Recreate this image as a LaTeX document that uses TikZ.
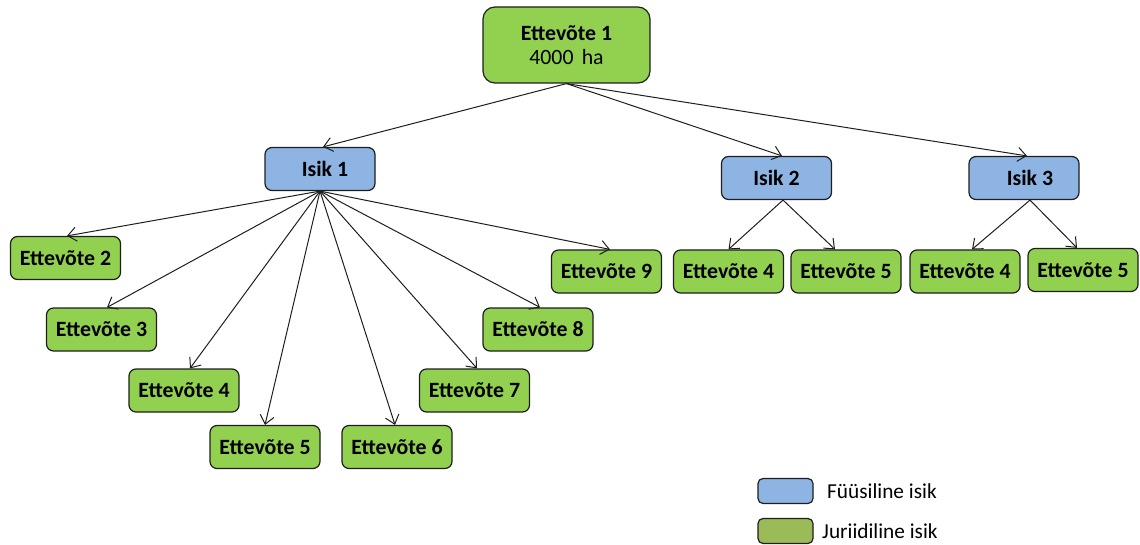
\documentclass[tikz,border=0pt]{standalone}
\usepackage{fontspec}
\setmainfont{Carlito}
\usetikzlibrary{arrows.meta}
\definecolor{gfill}{HTML}{92D050}
\definecolor{bfill}{HTML}{8DB4E2}
\definecolor{lgreen}{HTML}{9BBB59}
\definecolor{edge}{HTML}{1E1E1E}
\begin{document}
\begin{tikzpicture}[x=1pt,y=-1pt,
 box/.style={draw=edge, line width=1.2pt, rounded corners=7pt, minimum width=110pt, minimum height=43pt, inner sep=0pt, font=\fontsize{21.8}{23}\selectfont\bfseries, text=black},
 comp/.style={box, fill=gfill},
 pers/.style={box, fill=bfill},
 link/.style={draw=edge, line width=1pt, -{Straight Barb[length=8.5pt,width=14pt,line width=1pt]}},
 legbox/.style={draw=edge, line width=1.2pt, rounded corners=5pt, minimum width=55pt, minimum height=25pt, inner sep=0pt},
 legtext/.style={anchor=west, font=\fontsize{21.3}{24}\selectfont, inner sep=0pt, text=black}]
\useasboundingbox (0,0) rectangle (1140,545);

% top company
\node[comp, minimum width=167pt, minimum height=76pt, rounded corners=12pt, align=center] (e1) at (566.5,45)
  {\raisebox{2pt}{Ettevõte 1}\\[-1pt]{\mdseries 4000\hspace{0.15em} ha}};

% persons
\node[pers] (i1) at (320,169) {\hspace{10pt}Isik 1};
\node[pers] (i2) at (776.5,178) {Isik 2};
\node[pers] (i3) at (1024,178) {\hspace{12pt}Isik 3};

% companies of Isik 1
\node[comp] (e2) at (65.5,258) {Ettevõte 2};
\node[comp] (e3) at (101.5,329.5) {Ettevõte 3};
\node[comp] (e4a) at (184,390.5) {Ettevõte 4};
\node[comp] (e5a) at (265,447) {Ettevõte 5};
\node[comp] (e6) at (397,447) {Ettevõte 6};
\node[comp] (e7) at (474.5,390.5) {Ettevõte 7};
\node[comp] (e8) at (538,329.5) {Ettevõte 8};
\node[comp] (e9) at (606.5,271.5) {Ettevõte 9};

% companies of Isik 2
\node[comp] (e4b) at (728.5,271.5) {Ettevõte 4};
\node[comp] (e5b) at (846,271.5) {Ettevõte 5};

% companies of Isik 3
\node[comp] (e4c) at (965,271.5) {Ettevõte 4};
\node[comp] (e5c) at (1083,270) {Ettevõte 5};

% connectors
\draw[link] (e1.south) -- ([xshift=3pt]i1.north);
\draw[link] (e1.south) -- ([xshift=5.5pt]i2.north);
\draw[link] (e1.south) -- ([xshift=3pt]i3.north);

\draw[link] (i1.south) -- ([xshift=1.5pt]e2.north);
\draw[link] (i1.south) -- ([xshift=5.5pt]e3.north);
\draw[link] (i1.south) -- ([xshift=6pt]e4a.north);
\draw[link] (i1.south) -- (e5a.north);
\draw[link] (i1.south) -- ([xshift=-2pt]e6.north);
\draw[link] (i1.south) -- ([xshift=2.5pt]e7.north);
\draw[link] (i1.south) -- ([xshift=2pt]e8.north);
\draw[link] (i1.south) -- ([xshift=3.5pt]e9.north);

\draw[link] ([xshift=6.5pt]i2.south) -- (e4b.north);
\draw[link] ([xshift=6.5pt]i2.south) -- ([xshift=-11pt]e5b.north);

\draw[link] ([xshift=6pt]i3.south) -- ([xshift=7pt]e4c.north);
\draw[link] ([xshift=6pt]i3.south) -- ([xshift=-6pt]e5c.north);

% legend
\node[legbox, fill=bfill] (lb) at (785.5,491) {};
\node[legtext] (lbt) at (827,491) {Füüsiline isik};
\node[legbox, fill=lgreen] (lg) at (785.5,531) {};
\node[legtext] (lgt) at (822,531) {Juriidiline isik};
\end{tikzpicture}
\end{document}
